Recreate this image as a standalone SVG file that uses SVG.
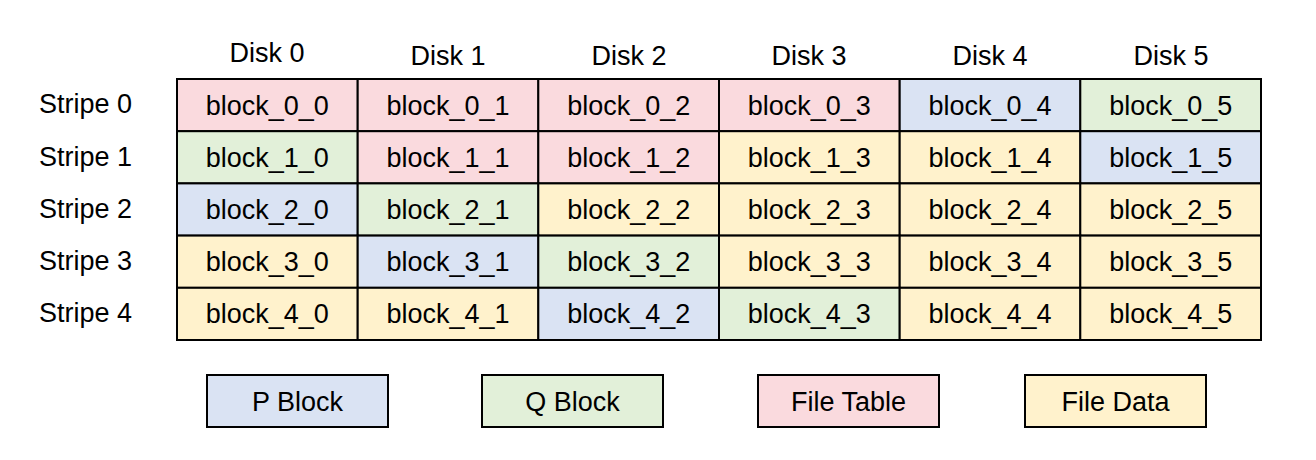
<svg xmlns="http://www.w3.org/2000/svg" width="1316" height="460" viewBox="0 0 1316 460">
<style>
.c{stroke:#000;stroke-width:2}
.p{fill:#DAE3F3}.q{fill:#E2F0D9}.f{fill:#FADADE}.d{fill:#FFF2CC}
text{font-family:"Liberation Sans",Arial,sans-serif;font-size:27px;fill:#000}
.m{text-anchor:middle}
</style>
<rect width="1316" height="460" fill="#fff"/>
<g id="headers">
<text class="m" x="267" y="62">Disk 0</text>
<text class="m" x="448" y="65">Disk 1</text>
<text class="m" x="629" y="65">Disk 2</text>
<text class="m" x="809" y="65">Disk 3</text>
<text class="m" x="990" y="65">Disk 4</text>
<text class="m" x="1171" y="65">Disk 5</text>
</g>
<g id="stripes">
<text x="39" y="113">Stripe 0</text>
<text x="39" y="166">Stripe 1</text>
<text x="39" y="218">Stripe 2</text>
<text x="39" y="270">Stripe 3</text>
<text x="39" y="322">Stripe 4</text>
</g>
<g id="grid">
<g id="row0">
<rect class="c f" x="177" y="79" width="180.7" height="52.2"/><text class="m" x="267.3" y="115">block_0_0</text>
<rect class="c f" x="357.7" y="79" width="180.7" height="52.2"/><text class="m" x="448" y="115">block_0_1</text>
<rect class="c f" x="538.3" y="79" width="180.7" height="52.2"/><text class="m" x="628.7" y="115">block_0_2</text>
<rect class="c f" x="719" y="79" width="180.7" height="52.2"/><text class="m" x="809.3" y="115">block_0_3</text>
<rect class="c p" x="899.7" y="79" width="180.7" height="52.2"/><text class="m" x="990" y="115">block_0_4</text>
<rect class="c q" x="1080.3" y="79" width="180.7" height="52.2"/><text class="m" x="1170.7" y="115">block_0_5</text>
</g>
<g id="row1">
<rect class="c q" x="177" y="131.2" width="180.7" height="52.2"/><text class="m" x="267.3" y="167">block_1_0</text>
<rect class="c f" x="357.7" y="131.2" width="180.7" height="52.2"/><text class="m" x="448" y="167">block_1_1</text>
<rect class="c f" x="538.3" y="131.2" width="180.7" height="52.2"/><text class="m" x="628.7" y="167">block_1_2</text>
<rect class="c d" x="719" y="131.2" width="180.7" height="52.2"/><text class="m" x="809.3" y="167">block_1_3</text>
<rect class="c d" x="899.7" y="131.2" width="180.7" height="52.2"/><text class="m" x="990" y="167">block_1_4</text>
<rect class="c p" x="1080.3" y="131.2" width="180.7" height="52.2"/><text class="m" x="1170.7" y="167">block_1_5</text>
</g>
<g id="row2">
<rect class="c p" x="177" y="183.4" width="180.7" height="52.2"/><text class="m" x="267.3" y="219">block_2_0</text>
<rect class="c q" x="357.7" y="183.4" width="180.7" height="52.2"/><text class="m" x="448" y="219">block_2_1</text>
<rect class="c d" x="538.3" y="183.4" width="180.7" height="52.2"/><text class="m" x="628.7" y="219">block_2_2</text>
<rect class="c d" x="719" y="183.4" width="180.7" height="52.2"/><text class="m" x="809.3" y="219">block_2_3</text>
<rect class="c d" x="899.7" y="183.4" width="180.7" height="52.2"/><text class="m" x="990" y="219">block_2_4</text>
<rect class="c d" x="1080.3" y="183.4" width="180.7" height="52.2"/><text class="m" x="1170.7" y="219">block_2_5</text>
</g>
<g id="row3">
<rect class="c d" x="177" y="235.6" width="180.7" height="52.2"/><text class="m" x="267.3" y="271">block_3_0</text>
<rect class="c p" x="357.7" y="235.6" width="180.7" height="52.2"/><text class="m" x="448" y="271">block_3_1</text>
<rect class="c q" x="538.3" y="235.6" width="180.7" height="52.2"/><text class="m" x="628.7" y="271">block_3_2</text>
<rect class="c d" x="719" y="235.6" width="180.7" height="52.2"/><text class="m" x="809.3" y="271">block_3_3</text>
<rect class="c d" x="899.7" y="235.6" width="180.7" height="52.2"/><text class="m" x="990" y="271">block_3_4</text>
<rect class="c d" x="1080.3" y="235.6" width="180.7" height="52.2"/><text class="m" x="1170.7" y="271">block_3_5</text>
</g>
<g id="row4">
<rect class="c d" x="177" y="287.8" width="180.7" height="52.2"/><text class="m" x="267.3" y="323">block_4_0</text>
<rect class="c d" x="357.7" y="287.8" width="180.7" height="52.2"/><text class="m" x="448" y="323">block_4_1</text>
<rect class="c p" x="538.3" y="287.8" width="180.7" height="52.2"/><text class="m" x="628.7" y="323">block_4_2</text>
<rect class="c q" x="719" y="287.8" width="180.7" height="52.2"/><text class="m" x="809.3" y="323">block_4_3</text>
<rect class="c d" x="899.7" y="287.8" width="180.7" height="52.2"/><text class="m" x="990" y="323">block_4_4</text>
<rect class="c d" x="1080.3" y="287.8" width="180.7" height="52.2"/><text class="m" x="1170.7" y="323">block_4_5</text>
</g>
</g>
<g id="legend">
<g id="leg-p"><rect class="c p" x="207" y="375" width="181" height="52"/><text class="m" x="297.5" y="411">P Block</text></g>
<g id="leg-q"><rect class="c q" x="482" y="375" width="181" height="52"/><text class="m" x="572.5" y="411">Q Block</text></g>
<g id="leg-f"><rect class="c f" x="758" y="375" width="181" height="52"/><text class="m" x="848.5" y="411">File Table</text></g>
<g id="leg-d"><rect class="c d" x="1025" y="375" width="181" height="52"/><text class="m" x="1115.5" y="411">File Data</text></g>
</g>
</svg>
